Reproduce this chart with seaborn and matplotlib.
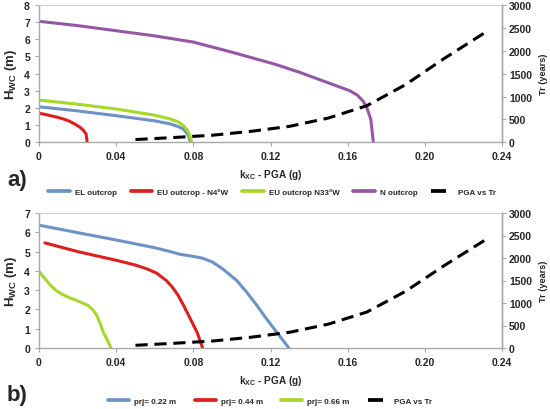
import matplotlib
matplotlib.use("Agg")
import matplotlib.pyplot as plt
import seaborn as sns
import pandas as pd
from matplotlib.lines import Line2D

sns.set_style("ticks")
plt.rcParams['font.family'] = ['Liberation Sans', 'DejaVu Sans']
plt.rcParams['font.weight'] = 'bold'
plt.rcParams['mathtext.fontset'] = 'custom'
plt.rcParams['mathtext.rm'] = 'Liberation Sans:bold'
plt.rcParams['mathtext.it'] = 'Liberation Sans:bold'
plt.rcParams['mathtext.default'] = 'rm'

# ---- panel a data ----
el_x = [0, 0.02, 0.04, 0.06, 0.068, 0.072, 0.0748, 0.0765, 0.0775, 0.0785]
el_y = [2.07, 1.83, 1.55, 1.25, 1.07, 0.92, 0.77, 0.55, 0.38, 0]
eu4_x = [0, 0.003, 0.006, 0.0095, 0.0126, 0.0155, 0.018, 0.0213, 0.023, 0.0244, 0.025]
eu4_y = [1.69, 1.63, 1.55, 1.46, 1.36, 1.24, 1.10, 0.87, 0.70, 0.48, 0]
eu33_x = [0, 0.02, 0.04, 0.06, 0.068, 0.072, 0.0748, 0.0768, 0.0779, 0.0792]
eu33_y = [2.46, 2.22, 1.94, 1.58, 1.36, 1.20, 0.97, 0.72, 0.48, 0]
n_x = [0, 0.02, 0.04, 0.06, 0.08, 0.10, 0.1223, 0.1353, 0.1612, 0.165, 0.168, 0.1699, 0.172, 0.1733]
n_y = [7.05, 6.8, 6.5, 6.2, 5.84, 5.25, 4.55, 4.07, 3.0, 2.75, 2.4, 2.03, 1.34, 0]

# ---- PGA vs return period ----
pga = [0.05, 0.07, 0.09, 0.11, 0.13, 0.15, 0.17, 0.19, 0.21, 0.232]
tr = [60, 105, 155, 240, 350, 530, 800, 1260, 1830, 2420]

# ---- panel b data ----
p22_x = [0, 0.02, 0.04, 0.06, 0.068, 0.073, 0.08, 0.085, 0.09, 0.095, 0.1025, 0.108, 0.113, 0.118, 0.123, 0.1295]
p22_y = [6.37, 5.98, 5.6, 5.2, 5.0, 4.86, 4.75, 4.65, 4.45, 4.12, 3.5, 2.85, 2.2, 1.5, 0.85, 0]
p44_x = [0.003, 0.02, 0.04, 0.05, 0.056, 0.061, 0.066, 0.069, 0.072, 0.075, 0.078, 0.082, 0.0848]
p44_y = [5.45, 5.0, 4.55, 4.3, 4.1, 3.88, 3.5, 3.17, 2.75, 2.2, 1.6, 0.8, 0]
p66_x = [0, 0.003, 0.006, 0.009, 0.0125, 0.016, 0.0195, 0.0255, 0.028, 0.030, 0.0318, 0.0333, 0.0355, 0.0373]
p66_y = [3.97, 3.6, 3.25, 2.97, 2.76, 2.6, 2.47, 2.2, 1.97, 1.68, 1.25, 0.82, 0.4, 0]

xticks = [0, 0.04, 0.08, 0.12, 0.16, 0.20, 0.24]
xticklabels = ["0", "0.04", "0.08", "0.12", "0.16", "0.20", "0.24"]

BLUE = "#6f92c6"
RED = "#dd1f1f"
GREEN = "#a6d82c"
PURPLE = "#9656a6"
SPINE = "#a8a8a8"
DASH = (0, (4, 2.2))

fig = plt.figure(figsize=(5.5, 4.1), dpi=100)
axA = fig.add_axes([39/550, 1-143.3/410, (502-39)/550, (143.3-6)/410])
axB = fig.add_axes([39/550, 1-349/410, (502-39)/550, (349-214)/410])

LW = 2.2


def draw(ax, x, y, color):
    df = pd.DataFrame({"x": x, "y": y})
    sns.lineplot(data=df, x="x", y="y", ax=ax, color=color, lw=LW,
                 sort=False, estimator=None, solid_joinstyle='round')


def style(ax, ymax, ax2):
    ax.set_xlim(0, 0.24)
    ax.set_ylim(0, ymax)
    ax.set_xticks(xticks)
    ax.set_xticklabels(xticklabels)
    ax.set_yticks(range(0, ymax + 1))
    ax.set_ylabel("H$_{WC}$ (m)", fontsize=9.5, fontweight='bold', labelpad=4)
    ax.set_xlabel("k$_{XC}$ - PGA (g)", fontsize=7.2, fontweight='bold', labelpad=4)
    ax.tick_params(labelsize=7.5, length=3, color=SPINE, width=0.8)
    for s in ['left', 'bottom', 'right']:
        ax.spines[s].set_color(SPINE)
        ax.spines[s].set_linewidth(1.0)
    ax.spines['top'].set_color('#d0d0d0')
    ax.spines['top'].set_linewidth(0.8)
    ax2.set_ylim(0, 3000)
    ax2.set_yticks(range(0, 3001, 500))
    ax2.set_ylabel("Tr (years)", fontsize=6.6, fontweight='bold', labelpad=5)
    ax2.tick_params(labelsize=7.5, length=3, color=SPINE, width=0.8, pad=2)
    for s in ['left', 'bottom', 'right', 'top']:
        ax2.spines[s].set_visible(False)
    ax2.spines['right'].set_visible(True)
    ax2.spines['right'].set_color(SPINE)
    ax2.spines['right'].set_linewidth(1.0)
    for lab in ax.get_xticklabels() + ax.get_yticklabels() + ax2.get_yticklabels():
        lab.set_fontweight('bold')


# panel a
draw(axA, el_x, el_y, BLUE)
draw(axA, eu4_x, eu4_y, RED)
draw(axA, eu33_x, eu33_y, GREEN)
draw(axA, n_x, n_y, PURPLE)
axA2 = axA.twinx()
sns.lineplot(x=pga, y=tr, ax=axA2, color="black", lw=LW,
             sort=False, estimator=None, linestyle=DASH)
style(axA, 8, axA2)

# panel b
draw(axB, p22_x, p22_y, BLUE)
draw(axB, p44_x, p44_y, RED)
draw(axB, p66_x, p66_y, GREEN)
axB2 = axB.twinx()
sns.lineplot(x=pga, y=tr, ax=axB2, color="black", lw=LW,
             sort=False, estimator=None, linestyle=DASH)
style(axB, 7, axB2)

for a in (axA, axB, axA2, axB2):
    leg = a.get_legend()
    if leg:
        leg.remove()

fig.text(7/550, 1-181/410, "a)", fontsize=16, fontweight='bold', va='center', ha='left')
fig.text(7/550, 1-396/410, "b)", fontsize=16, fontweight='bold', va='center', ha='left')


def h(c, ls='-'):
    return Line2D([], [], color=c, lw=LW + 0.5, linestyle=ls)


handlesA = [h(BLUE), h(RED), h(GREEN), h(PURPLE), h('black', DASH)]
labelsA = ["EL outcrop", "EU outcrop - N4°W", "EU outcrop N33°W", "N outcrop", "PGA vs Tr"]
fig.legend(handlesA, labelsA, loc='center', bbox_to_anchor=(272/550, 1-193/410),
           ncol=5, frameon=False, handlelength=2.7, columnspacing=1.7,
           handletextpad=0.6, prop={'weight': 'bold', 'size': 5.8})

handlesB = [h(BLUE), h(RED), h(GREEN), h('black', DASH)]
labelsB = ["prj= 0.22 m", "prj= 0.44 m", "prj= 0.66 m", "PGA vs Tr"]
fig.legend(handlesB, labelsB, loc='center', bbox_to_anchor=(270/550, 1-402/410),
           ncol=4, frameon=False, handlelength=2.6, columnspacing=2.3,
           handletextpad=0.6, prop={'weight': 'bold', 'size': 5.8})

fig.savefig("out.png", dpi=100)
